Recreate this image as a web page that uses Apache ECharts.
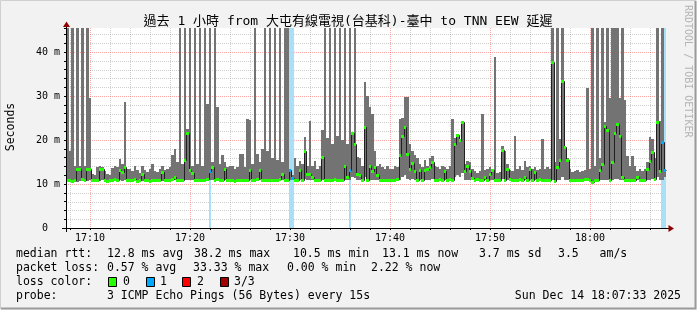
<!DOCTYPE html>
<html><head><meta charset="utf-8">
<script src="https://cdn.jsdelivr.net/npm/echarts@6/dist/echarts.min.js"></script>
<style>html,body{margin:0;padding:0;background:#f2f2f2}#c{width:697px;height:310px}</style>
</head><body><div id="c"></div>
<script>
// ---- time axis: minutes after 17:00, one sample every 15 s ----
const T0 = 7.6;          // 17:07:36
const DT = 0.25;         // 15 s
const Y_MAX = 45.4545;   // top of plot (ms)

// smoke maximum (ms) per 15 s step (values above the top are clipped)
const hi = [
 50,17.5,50,14,50,14,50,14,50,29.5,
 12.2,12.0,13.8,14.0,13.9,13.0,12.3,12.0,13.6,14.0,
 13.8,15.7,14.5,28.6,13.5,13.5,13.0,14.0,13.2,12.5,
 14.0,13.2,12.8,13.3,14.5,13.0,12.7,13.5,14.0,13.2,
 13.5,13.8,16.5,18.0,15.0,50,14.5,50,22.5,50,
 14.0,50,14.5,50,14.0,50,28.1,50,15.0,50,
 27.6,14.5,16.5,15.0,13.9,14.0,14.2,13.5,13.8,16.9,
 16.9,13.8,24.8,24.5,14.5,50,16.8,15.0,17.9,50,
 17.5,50,16.0,50,15.5,50,15.0,50,50,13.5,
 12.0,16.0,14.0,15.3,14.5,20.6,14.0,24.4,14.0,15.3,
 13.5,14.0,22.3,50,20.5,50,19.0,50,21.0,50,
 20.0,50,19.0,50,21.8,50,16.1,16.0,14.0,33.1,
 30.0,27.4,26.0,17.6,14.2,14.5,13.8,13.5,14.0,13.5,
 13.5,14.0,13.8,24.8,25.0,29.8,29.8,19.0,17.5,16.5,
 15.9,14.5,13.8,15.5,14.2,15.8,16.3,14.2,13.8,13.5,
 14.0,13.8,13.5,14.0,24.8,20.5,21.4,20.2,24.4,14.5,
 15.3,15.0,13.5,13.0,12.5,13.0,25.9,13.2,13.5,13.8,
 13.5,38.9,12.5,12.8,18.7,17.6,14.5,13.2,13.0,21.0,
 13.5,14.0,13.2,15.3,13.8,14.0,13.5,13.8,13.2,13.5,
 20.2,13.5,13.8,13.5,50,15.0,50,20.2,50,18.5,
 16.0,13.5,12.8,13.0,13.2,12.7,13.0,13.2,31.8,13.5,
 50,14,50,16,50,24,50,29.5,50,50,
 50,29.5,50,29.0,16.4,14.0,16.4,14.0,13.0,13.5,
 13.0,13.5,14.9,20.6,20.2,16.0,50,24.4,50,13.3
];
// median rtt (ms)
const med = [
 11.0,10.9,10.7,10.9,13.5,13.5,11.2,11.0,13.4,13.4,
 10.9,10.8,10.9,13.4,13.5,10.8,10.7,10.8,11.0,11.2,
 11.0,13.2,12.8,13.9,11.0,10.9,10.8,11.2,10.7,11.0,
 12.3,11.0,10.8,10.7,11.0,10.8,10.9,11.0,12.8,11.0,
 10.9,11.0,11.2,11.5,10.9,11.0,10.9,15.5,21.7,13.2,
 12.5,10.9,10.8,10.9,11.0,10.9,11.2,13.0,13.9,11.0,
 11.2,10.9,11.0,13.5,11.0,10.8,10.9,10.7,10.8,11.0,
 11.0,10.8,11.0,13.2,10.9,11.0,11.2,13.2,11.0,11.0,
 11.0,10.9,10.8,11.0,10.9,11.2,12.2,11.0,11.0,13.2,
 11.3,11.0,10.9,13.2,11.0,17.4,12.3,12.3,11.5,11.0,
 11.0,10.9,16.1,11.0,10.8,10.9,11.0,11.2,11.0,11.0,
 11.0,14.0,11.5,13.2,21.6,19.1,12.3,12.0,11.0,23.0,
 10.8,14.2,13.0,13.8,12.0,11.0,10.8,10.9,11.0,10.8,
 10.9,10.8,11.2,16.5,20.8,23.0,16.8,13.3,14.7,13.0,
 11.0,13.2,10.9,13.2,13.5,13.9,15.1,11.0,10.8,11.1,
 10.9,13.0,11.0,11.2,11.0,19.1,21.1,19.9,24.2,13.0,
 14.0,13.0,11.3,11.0,11.2,10.9,11.0,11.5,11.0,12.3,
 13.2,11.0,10.9,11.0,17.7,11.0,13.3,11.1,10.9,11.0,
 11.0,11.2,10.9,11.5,11.0,13.5,11.0,12.8,11.0,11.2,
 11.0,10.8,10.9,11.0,37.8,10.6,13.9,15.5,33.4,18.3,
 15.5,11.0,10.8,10.9,10.8,10.9,11.0,11.1,11.2,10.9,
 10.5,10.8,11.0,13.2,14.6,23.2,22.2,11.0,15.0,21.7,
 23.6,21.0,11.7,11.0,10.8,10.8,11.0,10.9,11.7,11.0,
 10.9,11.0,13.4,15.3,17.2,11.2,24.2,13.0,19.5,13.2
];
// smoke minimum (ms)
const lo = [
 10.6,10.5,10.4,10.6,10.5,10.7,10.6,10.6,10.6,10.8,
 10.6,10.5,10.6,10.7,10.8,10.5,10.4,10.5,10.6,10.7,
 10.7,10.8,10.7,10.9,10.6,10.6,10.5,10.7,10.4,10.6,
 10.7,10.6,10.5,10.4,10.6,10.5,10.6,10.6,10.7,10.6,
 10.6,10.6,10.7,10.8,10.6,10.6,10.5,10.9,11.0,10.8,
 10.8,10.6,10.5,10.6,10.6,10.5,10.7,10.8,10.9,10.6,
 10.7,10.6,10.6,10.8,10.6,10.5,10.6,10.4,10.5,10.6,
 10.6,10.5,10.6,10.9,10.6,10.6,10.7,10.8,10.6,10.6,
 10.6,10.6,10.5,10.6,10.6,10.7,10.8,10.6,10.6,10.8,
 10.9,10.6,10.6,10.8,10.7,11.2,10.9,10.9,10.8,10.6,
 10.6,10.6,11.0,10.6,10.5,10.6,10.6,10.7,10.6,10.6,
 10.6,10.9,10.8,10.9,11.5,11.3,10.9,10.8,10.6,11.5,
 10.5,11.0,10.9,11.0,10.8,10.6,10.5,10.6,10.6,10.5,
 10.6,10.5,10.7,11.0,11.5,12.0,11.2,11.0,11.2,10.9,
 10.6,10.9,10.6,10.9,10.9,11.0,11.2,10.6,10.5,10.7,
 10.6,10.8,10.6,10.7,10.6,11.5,12.0,11.5,12.5,10.9,
 10.9,10.8,10.8,10.6,10.7,10.6,10.6,10.8,10.6,10.8,
 10.9,10.6,10.6,10.6,11.2,10.6,10.9,10.7,10.6,10.6,
 10.6,10.7,10.6,10.8,10.6,10.9,10.6,10.8,10.6,10.7,
 10.6,10.5,10.6,10.6,11.0,10.4,10.9,11.0,11.5,11.0,
 11.0,10.6,10.5,10.6,10.5,10.6,10.6,10.6,10.7,10.4,
 10.3,10.5,10.6,10.8,10.9,11.0,11.0,10.6,11.0,11.2,
 11.2,11.0,10.9,10.6,10.5,10.5,10.6,10.6,10.9,10.6,
 10.6,10.6,10.9,11.0,11.2,10.8,11.5,10.9,11.0,11.5
];
// steps with 1 of 3 pings lost
const lossSteps = [57, 89, 90, 113, 238, 239];

// axis ticks / labels
const xMajor = [10, 20, 30, 40, 50, 60];
const xMajorLabels = ['17:10', '17:20', '17:30', '17:40', '17:50', '18:00'];
const xMinor = [8, 12, 14, 16, 18, 22, 24, 26, 28, 32, 34, 36, 38, 42, 44, 46, 48, 52, 54, 56, 58, 62, 64, 66];
const yMajor = [10, 20, 30, 40];
const yMinor = [2, 4, 6, 8, 12, 14, 16, 18, 22, 24, 26, 28, 32, 34, 36, 38, 42, 44];
const yLabels = {0: '0  ', 10: '10 m', 20: '20 m', 30: '30 m', 40: '40 m'};

const legendLines = [
  [[16, 'median rtt:'], [107, '12.8 ms avg'], [194, '38.2 ms max'], [293, '10.5 ms min'], [382, '13.1 ms now'], [479, '3.7 ms sd'], [558, '3.5   am/s']],
  [[16, 'packet loss:'], [107, '0.57 % avg'], [193, '33.33 % max'], [287, '0.00 % min'], [371, '2.22 % now']],
  [[16, 'loss color:'], [123, '0'], [160, '1'], [197, '2'], [234, '3/3']],
  [[16, 'probe:'], [107, '3 ICMP Echo Pings (56 Bytes) every 15s']]
];
const lossLegend = [['0', '#26ff00', 108], ['1', '#00a8ff', 146], ['2', '#ff0000', 182], ['3/3', '#a00000', 220]];
const dateText = 'Sun Dec 14 18:07:33 2025';
const titleText = '過去 1 小時 from 大屯有線電視(台基科)-臺中 to TNN EEW 延遲';

const COL_SMOKE = '#737373', COL_GREEN = '#26ff00', COL_BLUE = '#00a8ff', COL_LOSSBG = '#a9dff7';
const MONO = "'DejaVu Sans Mono', monospace";

const chart = echarts.init(document.getElementById('c'), null, {renderer: 'canvas'});

const tOf = i => T0 + DT * i;
const smokeData = hi.map((h, i) => [tOf(i), lo[i], h, tOf(i + 1)]);
const markData = med.map((m, i) => [tOf(i), m, tOf(i + 1), lossSteps.includes(i) ? 1 : 0, i > 0 ? med[i - 1] : m]);
const lossData = lossSteps.map(i => [tOf(i), 0, tOf(i + 1)]);

function csRect(params) {
  const c = params.coordSys;
  return {x: c.x, y: c.y, width: c.width, height: c.height};
}
const px = v => Math.round(v);
function gridV(color) {
  return (params, api) => {
    const x = px(api.coord([api.value(0), 0])[0]) + 0.5;
    const c = params.coordSys;
    return {type: 'line', shape: {x1: x, y1: c.y, x2: x, y2: c.y + c.height},
      style: {stroke: color, lineWidth: 1, lineDash: [1, 1]}, silent: true};
  };
}
function gridH(color) {
  return (params, api) => {
    const y = px(api.coord([T0, api.value(1)])[1]) + 0.5;
    const c = params.coordSys;
    return {type: 'line', shape: {x1: c.x, y1: y, x2: c.x + c.width, y2: y},
      style: {stroke: color, lineWidth: 1, lineDash: [1, 1]}, silent: true};
  };
}
const GRID_MINOR = 'rgba(150,150,150,0.45)';
const GRID_MAJOR = 'rgba(255,60,60,0.45)';

const graphic = [];
// 3D frame
graphic.push({type: 'polyline', shape: {points: [[0.5, 309], [0.5, 0.5], [696, 0.5]]}, style: {stroke: '#d0d0d0', lineWidth: 1, fill: null}, silent: true});
graphic.push({type: 'polyline', shape: {points: [[1, 308.5], [695.5, 308.5], [695.5, 1]]}, style: {stroke: '#9a9a9a', lineWidth: 2, fill: null}, silent: true});
// axes (drawn like rrdtool: extending slightly past the plot)
graphic.push({type: 'line', shape: {x1: 62, y1: 228.5, x2: 670, y2: 228.5}, style: {stroke: '#000', lineWidth: 1}, z: 50, silent: true});
graphic.push({type: 'line', shape: {x1: 66.5, y1: 232, x2: 66.5, y2: 24}, style: {stroke: '#000', lineWidth: 1}, z: 50, silent: true});
graphic.push({type: 'polygon', shape: {points: [[668.5, 225], [668.5, 232], [674, 228.5]]}, style: {fill: '#900000'}, z: 50, silent: true});
graphic.push({type: 'polygon', shape: {points: [[63, 27], [70, 27], [66.5, 21.5]]}, style: {fill: '#900000'}, z: 50, silent: true});
// title
graphic.push({type: 'text', x: 348, y: 22, style: {text: titleText, font: "13px 'DejaVu Sans Mono', 'Noto Sans CJK TC', monospace", fill: '#000', align: 'center', verticalAlign: 'middle'}, silent: true});
// watermark
graphic.push({type: 'text', x: 688, y: 5, rotation: -Math.PI / 2, style: {text: 'RRDTOOL / TOBI OETIKER', font: '10px ' + MONO, fill: '#b4b4b4', align: 'left', verticalAlign: 'middle'}, silent: true});
// y axis name
graphic.push({type: 'text', x: 11, y: 127, rotation: Math.PI / 2, style: {text: 'Seconds', font: '11.5px ' + MONO, fill: '#000', align: 'center', verticalAlign: 'middle'}, silent: true});
// legend
const lineY = [254, 268, 282, 296];
legendLines.forEach((items, li) => items.forEach(([x, t]) => graphic.push({type: 'text', x: x, y: lineY[li], style: {text: t, font: '11.5px ' + MONO, fill: '#000', align: 'left', verticalAlign: 'middle'}, silent: true})));
lossLegend.forEach(([n, col, x]) => graphic.push({type: 'rect', shape: {x: x + 0.5, y: 277.5, width: 8, height: 9}, style: {fill: col, stroke: '#000', lineWidth: 1}, silent: true}));
graphic.push({type: 'text', x: 681, y: 296, style: {text: dateText, font: '11.5px ' + MONO, fill: '#000', align: 'right', verticalAlign: 'middle'}, silent: true});

chart.setOption({
  animation: false,
  backgroundColor: '#f2f2f2',
  grid: {left: 66, top: 28, width: 600, height: 200, show: true, backgroundColor: '#ffffff', borderWidth: 0},
  xAxis: {
    type: 'value', min: T0, max: T0 + DT * hi.length,
    axisLine: {show: false},
    splitLine: {show: false},
    axisTick: {show: true, customValues: xMinor.concat(xMajor), length: 2, inside: false, lineStyle: {color: '#000'}},
    axisLabel: {show: true, customValues: xMajor, margin: 5, color: '#000', fontFamily: MONO, fontSize: 10,
      formatter: v => xMajorLabels[xMajor.indexOf(Math.round(v))] || ''}
  },
  yAxis: {
    type: 'value', min: 0, max: Y_MAX, interval: 10,
    axisLine: {show: false},
    splitLine: {show: false},
    axisTick: {show: true, length: 2, lineStyle: {color: '#000'}},
    minorTick: {show: true, splitNumber: 5, length: 2, lineStyle: {color: '#000'}},
    axisLabel: {show: true, margin: 6, color: '#000', fontFamily: MONO, fontSize: 10,
      formatter: v => yLabels[Math.round(v)] !== undefined ? yLabels[Math.round(v)] : ''}
  },
  graphic: graphic,
  series: [
    {type: 'custom', z: 1, silent: true, clip: true, data: xMinor.map(v => [v, 0]), renderItem: gridV(GRID_MINOR), encode: {x: 0, y: 1}},
    {type: 'custom', z: 1, silent: true, clip: true, data: yMinor.map(v => [T0, v]), renderItem: gridH(GRID_MINOR), encode: {x: 0, y: 1}},
    {type: 'custom', z: 2, silent: true, clip: true, data: xMajor.map(v => [v, 0]), renderItem: gridV(GRID_MAJOR), encode: {x: 0, y: 1}},
    {type: 'custom', z: 2, silent: true, clip: true, data: yMajor.map(v => [T0, v]), renderItem: gridH(GRID_MAJOR), encode: {x: 0, y: 1}},
    {
      // loss background (full height)
      type: 'custom', z: 3, silent: true, data: lossData, encode: {x: [0, 2], y: 1},
      renderItem: (params, api) => {
        const c = params.coordSys;
        const x0 = px(api.coord([api.value(0), 0])[0]);
        const x1 = px(api.coord([api.value(2), 0])[0]);
        return {type: 'rect', shape: {x: x0, y: c.y, width: x1 - x0, height: c.height}, style: {fill: COL_LOSSBG}};
      }
    },
    {
      // smoke: min..max of the pings in each step
      type: 'custom', z: 4, silent: true, data: smokeData, encode: {x: [0, 3], y: [1, 2]},
      renderItem: (params, api) => {
        const p0 = api.coord([api.value(0), api.value(2)]);
        const p1 = api.coord([api.value(3), api.value(1)]);
        const x0 = px(p0[0]), x1 = px(p1[0]), y0 = px(p0[1]), y1 = px(p1[1]);
        const r = echarts.graphic.clipRectByRect({x: x0, y: y0, width: x1 - x0, height: Math.max(1, y1 - y0)}, csRect(params));
        return r ? {type: 'rect', shape: r, style: {fill: COL_SMOKE}} : null;
      }
    },
    {
      // median line (black steps)
      type: 'custom', z: 5, silent: true, data: markData, encode: {x: [0, 2], y: 1},
      renderItem: (params, api) => {
        const yP = px(api.coord([api.value(0), api.value(4)])[1]) + 0.5;
        const y = px(api.coord([api.value(0), api.value(1)])[1]) + 0.5;
        const x0 = px(api.coord([api.value(0), 0])[0]);
        const x1 = px(api.coord([api.value(2), 0])[0]);
        return {type: 'polyline', shape: {points: [[x0 + 0.5, yP], [x0 + 0.5, y], [x1 + 0.5, y]]},
          style: {stroke: '#202020', lineWidth: 1, fill: null}};
      }
    },
    {
      // median markers coloured by loss
      type: 'custom', z: 6, silent: true, data: markData, encode: {x: [0, 2], y: 1},
      renderItem: (params, api) => {
        const x0 = px(api.coord([api.value(0), 0])[0]);
        const x1 = px(api.coord([api.value(2), 0])[0]);
        const y = px(api.coord([api.value(0), api.value(1)])[1]);
        const r = echarts.graphic.clipRectByRect({x: x0, y: y - 1, width: x1 - x0, height: 3}, csRect(params));
        return r ? {type: 'rect', shape: r, style: {fill: api.value(3) ? COL_BLUE : COL_GREEN}} : null;
      }
    }
  ]
});
</script>
</body></html>
